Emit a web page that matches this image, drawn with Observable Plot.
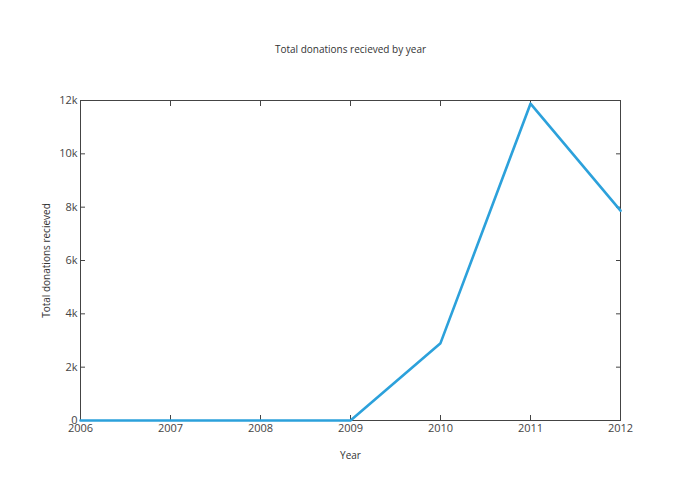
<!DOCTYPE html>
<html>
<head>
<meta charset="utf-8">
<script src="https://cdn.jsdelivr.net/npm/d3@7"></script>
<script src="https://cdn.jsdelivr.net/npm/@observablehq/plot@0.6"></script>
<style>
  html, body { margin: 0; padding: 0; background: #fff; }
  #chart svg { display: block; }
</style>
</head>
<body>
<div id="chart"></div>
<script>
const years = [2006, 2007, 2008, 2009, 2010, 2011, 2012];
const donations = [0, 0, 0, 0, 2900, 11880, 7870];
const yTicks = [0, 2000, 4000, 6000, 8000, 10000, 12000];
const titleText = "Total donations recieved by year";
const xLabel = "Year";
const yLabel = "Total donations recieved";

const data = years.map((y, i) => ({year: y, value: donations[i]}));
const fmtY = d => d === 0 ? "0" : (d / 1000) + "k";
const font = "'Open Sans', sans-serif";
const tickColor = "#444";
const labelColor = "#444";

const chart = Plot.plot({
  width: 700,
  height: 500,
  marginLeft: 80,
  marginRight: 80,
  marginTop: 100,
  marginBottom: 80,
  style: {fontFamily: font, fontSize: "11px", color: labelColor, background: "#fff"},
  x: {domain: [2006, 2012], label: null},
  y: {domain: [0, 12000], label: null},
  marks: [
    Plot.frame({stroke: "#444", strokeWidth: 1}),
    // inward ticks on all four sides
    Plot.axisX({anchor: "bottom", ticks: years, tickSize: -5, text: null, stroke: tickColor}),
    Plot.axisX({anchor: "top", ticks: years, tickSize: -5, text: null, stroke: tickColor}),
    Plot.axisY({anchor: "left", ticks: yTicks, tickSize: -5, text: null, stroke: tickColor}),
    Plot.axisY({anchor: "right", ticks: yTicks, tickSize: -5, text: null, stroke: tickColor}),
    // tick labels
    Plot.axisX({anchor: "bottom", ticks: years, tickSize: 0, tickPadding: 4, tickFormat: d => String(d), fill: labelColor, fontSize: 11}),
    Plot.axisY({anchor: "left", ticks: yTicks, tickSize: 0, tickPadding: 3, tickFormat: fmtY, fill: labelColor, fontSize: 11}),
    Plot.lineY(data, {x: "year", y: "value", stroke: "#2ca1db", strokeWidth: 2.6}),
    // titles
    Plot.text([titleText], {frameAnchor: "top", dy: -55, text: d => d, fontSize: 10, fill: "#333"}),
    Plot.text([xLabel], {frameAnchor: "bottom", dy: 38, text: d => d, fontSize: 10, fill: "#333"}),
    Plot.text([yLabel], {frameAnchor: "left", dx: -34, rotate: -90, textAnchor: "middle", text: d => d, fontSize: 10, fill: "#333"})
  ]
});
document.getElementById("chart").appendChild(chart);
</script>
</body>
</html>
